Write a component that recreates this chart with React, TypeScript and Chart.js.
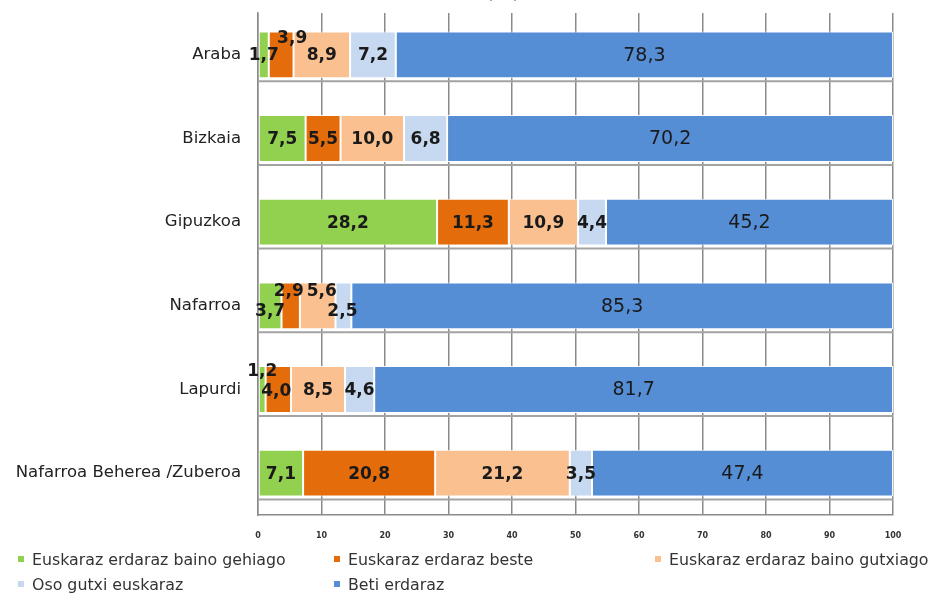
import React, { useEffect, useRef } from "react";
import { Chart, registerables } from "chart.js";

Chart.register(...registerables);

const categories = ["Araba", "Bizkaia", "Gipuzkoa", "Nafarroa", "Lapurdi", "Nafarroa Beherea /Zuberoa"];
const seriesNames = [
  "Euskaraz erdaraz baino gehiago",
  "Euskaraz erdaraz beste",
  "Euskaraz erdaraz baino gutxiago",
  "Oso gutxi euskaraz",
  "Beti erdaraz",
];
const gehiago = [1.7, 7.5, 28.2, 3.7, 1.2, 7.1];
const beste = [3.9, 5.5, 11.3, 2.9, 4.0, 20.8];
const gutxiago = [8.9, 10.0, 10.9, 5.6, 8.5, 21.2];
const osoGutxi = [7.2, 6.8, 4.4, 2.5, 4.6, 3.5];
const betiErdaraz = [78.3, 70.2, 45.2, 85.3, 81.7, 47.4];
const seriesValues = [gehiago, beste, gutxiago, osoGutxi, betiErdaraz];
const seriesColors = ["#92D050", "#E46C0A", "#FAC090", "#C6D9F1", "#558ED5"];
const titleText = "(%)";

// label nudges (px) for crowded small segments: "dataset,category" -> [dx, dy]
const labelNudges: Record<string, [number, number]> = {
  "1,0": [11, -16],
  "0,3": [0, 6],
  "1,3": [-2, -14],
  "2,3": [4, -14],
  "3,3": [-1, 6],
  "0,4": [0, -18],
  "1,4": [-2, 2],
};

const FONT = "'DejaVu Sans', sans-serif";

const underBarLines = {
  id: "underBarLines",
  beforeDatasetsDraw(chart: any) {
    const { ctx, chartArea } = chart;
    const meta = chart.getDatasetMeta(0);
    ctx.save();
    ctx.strokeStyle = "#a3a3a3";
    ctx.lineWidth = 2;
    meta.data.forEach((bar: any) => {
      const y = bar.y + bar.height / 2 + 3;
      ctx.beginPath();
      ctx.moveTo(chartArea.left, y);
      ctx.lineTo(chartArea.right, y);
      ctx.stroke();
    });
    ctx.restore();
  },
};

const valueLabels = {
  id: "valueLabels",
  afterDatasetsDraw(chart: any) {
    const { ctx } = chart;
    ctx.save();
    ctx.textAlign = "center";
    ctx.textBaseline = "middle";
    ctx.fillStyle = "#1a1a1a";
    chart.data.datasets.forEach((ds: any, di: number) => {
      const meta = chart.getDatasetMeta(di);
      ctx.font = di === 4 ? `19px ${FONT}` : `bold 17px ${FONT}`;
      meta.data.forEach((bar: any, ci: number) => {
        const v = ds.data[ci];
        const p = bar.getCenterPoint();
        const n = labelNudges[`${di},${ci}`] || [0, 1];
        ctx.fillText(v.toFixed(1).replace(".", ","), p.x + n[0], p.y + n[1]);
      });
    });
    ctx.restore();
  },
};

const topTitle = {
  id: "topTitle",
  afterDraw(chart: any) {
    const { ctx } = chart;
    ctx.save();
    ctx.font = `20px ${FONT}`;
    ctx.fillStyle = "#222";
    ctx.textAlign = "center";
    ctx.textBaseline = "alphabetic";
    ctx.fillText(titleText, 503, -2);
    ctx.restore();
  },
};

export default function App() {
  const ref = useRef<HTMLCanvasElement>(null);
  useEffect(() => {
    document.body.style.margin = "0";
    const chart = new Chart(ref.current!, {
      type: "bar",
      data: {
        labels: categories,
        datasets: seriesValues.map((vals, i) => ({
          label: seriesNames[i],
          data: vals,
          backgroundColor: seriesColors[i],
          borderColor: "rgba(255,255,255,0.9)",
          borderWidth: 1,
          borderSkipped: false,
          barPercentage: 0.56,
          categoryPercentage: 1,
        })),
      },
      options: {
        indexAxis: "y",
        animation: false,
        responsive: false,
        maintainAspectRatio: false,
        layout: { padding: { top: 13, right: 45, left: 0, bottom: 0 } },
        plugins: { legend: { display: false }, tooltip: { enabled: false }, title: { display: false } },
        scales: {
          x: {
            stacked: true,
            min: 0,
            max: 100,
            ticks: { stepSize: 10, padding: 16, color: "#333", font: { family: FONT, size: 8, weight: "bold" } },
            grid: { color: "#8a8a8a", lineWidth: 1.5, drawTicks: false },
            border: { display: true, color: "#8a8a8a", width: 1.5 },
            afterFit(scale: any) {
              scale.height = 79;
            },
          },
          y: {
            stacked: true,
            ticks: { padding: 17, color: "#222", font: { family: FONT, size: 16.5 } },
            grid: { display: false, drawTicks: false },
            border: { display: true, color: "#8a8a8a", width: 1.5 },
            afterFit(scale: any) {
              scale.width = 258;
              scale.paddingTop = 0;
              scale.paddingBottom = 0;
            },
          },
        },
      },
      plugins: [underBarLines, valueLabels, topTitle],
    });
    return () => chart.destroy();
  }, []);

  const legendPos = [
    [18, 549],
    [334, 549],
    [655, 549],
    [18, 574],
    [334, 574],
  ];

  return (
    <div style={{ position: "relative", width: 938, height: 594, overflow: "hidden", background: "#fff" }}>
      <canvas ref={ref} width={938} height={594} style={{ position: "absolute", left: 0, top: 0 }} />
      {seriesNames.map((name, i) => (
        <div
          key={name}
          style={{
            position: "absolute",
            left: legendPos[i][0],
            top: legendPos[i][1],
            height: 20,
            display: "flex",
            alignItems: "center",
            fontFamily: FONT,
            fontSize: 15.8,
            color: "#333",
            whiteSpace: "nowrap",
          }}
        >
          <span style={{ width: 6, height: 6, background: seriesColors[i], marginRight: 8, display: "inline-block" }} />
          <span>{name}</span>
        </div>
      ))}
    </div>
  );
}
